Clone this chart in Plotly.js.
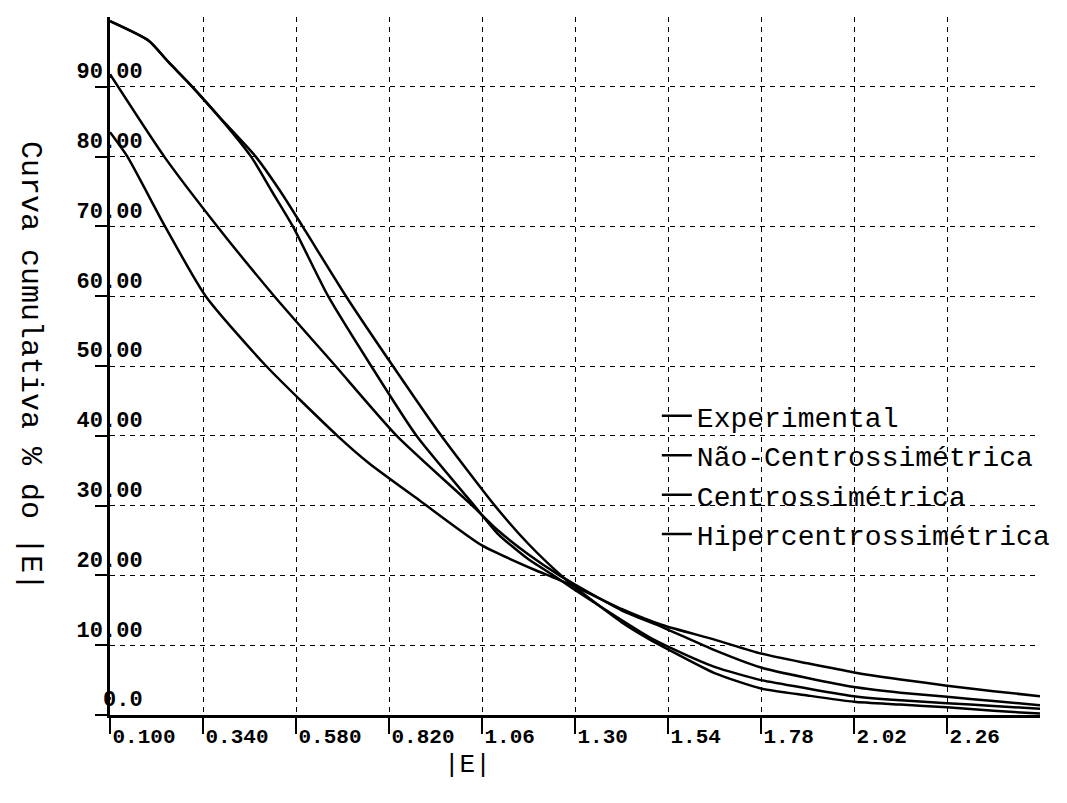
<!DOCTYPE html>
<html>
<head>
<meta charset="utf-8">
<script src="https://cdn.plot.ly/plotly-3.0.1.min.js"></script>
<style>html,body{margin:0;padding:0;background:#fff;}#chart{width:1067px;height:803px;}</style>
</head>
<body>
<div id="chart"></div>
<script>
// Series names
const seriesNames = ["Experimental", "Não-Centrossimétrica", "Centrossimétrica", "Hipercentrossimétrica"];

// Experimental
const expX = [0.10, 0.20, 0.25, 0.3125, 0.38, 0.464, 0.518, 0.572, 0.663, 0.774, 0.891, 1.04, 1.10, 1.18, 1.25, 1.30, 1.42, 1.49, 1.54, 1.66, 1.78, 1.90, 2.02, 2.14, 2.26, 2.38, 2.50];
const expY = [99.4, 96.6, 93.6, 90.0, 85.8, 80.0, 75.0, 70.0, 60.0, 50.0, 40.0, 30.0, 26.0, 22.3, 19.8, 17.9, 13.6, 11.2, 9.8, 6.9, 5.0, 3.8, 2.7, 2.1, 1.7, 1.3, 0.9];

// Não-Centrossimétrica
const ncX = [0.10, 0.20, 0.25, 0.3125, 0.38, 0.476, 0.54, 0.597, 0.709, 0.83, 0.955, 1.093, 1.18, 1.264, 1.30, 1.42, 1.49, 1.54, 1.66, 1.78, 1.90, 2.02, 2.14, 2.26, 2.38, 2.50];
const ncY = [99.4, 96.6, 93.6, 90.0, 85.8, 80.0, 75.0, 70.0, 60.0, 50.0, 40.0, 30.0, 24.5, 20.0, 18.3, 13.3, 10.9, 9.4, 6.0, 3.8, 2.8, 1.9, 1.5, 1.1, 0.6, 0.2];

// Centrossimétrica
const cX = [0.10, 0.24, 0.377, 0.524, 0.682, 0.84, 1.035, 1.10, 1.18, 1.26, 1.30, 1.42, 1.525, 1.66, 1.78, 1.90, 2.02, 2.14, 2.26, 2.38, 2.50];
const cY = [91.8, 80.0, 70.0, 60.0, 50.0, 40.0, 30.0, 26.5, 23.0, 20.0, 18.7, 15.0, 12.6, 9.3, 6.8, 5.3, 4.0, 3.2, 2.6, 2.0, 1.4];

// Hipercentrossimétrica
const hX = [0.10, 0.145, 0.242, 0.347, 0.503, 0.687, 0.77, 0.90, 1.06, 1.20, 1.24, 1.30, 1.42, 1.525, 1.66, 1.78, 1.90, 2.02, 2.14, 2.26, 2.38, 2.50];
const hY = [83.5, 80.0, 70.0, 60.0, 50.0, 40.0, 36.0, 30.7, 24.3, 20.7, 19.8, 18.4, 15.2, 12.9, 10.8, 8.8, 7.4, 6.1, 5.1, 4.2, 3.4, 2.7];

// Tick labels
const xTickVals = [0.10, 0.34, 0.58, 0.82, 1.06, 1.30, 1.54, 1.78, 2.02, 2.26];
const xTickText = ["0.100", "0.340", "0.580", "0.820", "1.06", "1.30", "1.54", "1.78", "2.02", "2.26"];
const yTickVals = [0, 10, 20, 30, 40, 50, 60, 70, 80, 90];
const yTickText = ["0.0", "10.00", "20.00", "30.00", "40.00", "50.00", "60.00", "70.00", "80.00", "90.00"];

const xTitle = "|E|";
const yTitle = "Curva cumulativa % do |E|";

const mono = "Liberation Mono, Courier New, monospace";
const lineStyle = {color: "#000", width: 2.5, shape: "spline", smoothing: 0.6};

const xs = [expX, ncX, cX, hX];
const ys = [expY, ncY, cY, hY];
const traces = seriesNames.map((name, i) => ({
  type: "scatter", mode: "lines", name: name,
  x: xs[i], y: ys[i], line: lineStyle
}));

const axisCommon = {
  showline: true, linecolor: "#000", linewidth: 3,
  ticks: "outside", tickcolor: "#000", tickwidth: 2,
  showgrid: true, gridcolor: "#000", gridwidth: 1, griddash: "5px,5px",
  zeroline: false,
  tickfont: {family: mono, size: 21, color: "#000", weight: "bold"}
};

const layout = {
  width: 1067, height: 803,
  paper_bgcolor: "#fff", plot_bgcolor: "#fff",
  margin: {l: 110, r: 27, t: 17, b: 88},
  showlegend: true,
  legend: {
    x: 0.588, y: 0.464, xanchor: "left", yanchor: "top",
    bgcolor: "rgba(0,0,0,0)", borderwidth: 0,
    font: {family: mono, size: 28, color: "#000"},
    itemwidth: 30, tracegroupgap: 0
  },
  xaxis: Object.assign({}, axisCommon, {
    range: [0.1, 2.5], tickmode: "array", tickvals: xTickVals, ticktext: xTickText,
    ticklen: 16, ticklabelposition: "outside right"
  }),
  yaxis: Object.assign({}, axisCommon, {
    range: [0, 100], tickmode: "array", tickvals: yTickVals, ticktext: yTickText,
    ticklen: 12, ticklabelposition: "outside top", ticklabelstandoff: -40,
    tickfont: {family: mono, size: 22, color: "#000", weight: "bold"}
  }),
  annotations: [{
    text: yTitle, xref: "paper", yref: "paper",
    x: -0.086, y: 0.5, xanchor: "center", yanchor: "middle",
    textangle: 90, showarrow: false,
    font: {family: mono, size: 30, color: "#000"}
  }, {
    text: xTitle, xref: "paper", yref: "paper",
    x: 0.384, y: -0.0716, xanchor: "center", yanchor: "middle",
    showarrow: false,
    font: {family: mono, size: 26, color: "#000"}
  }]
};

Plotly.newPlot("chart", traces, layout, {displayModeBar: false, staticPlot: true});
</script>
</body>
</html>
